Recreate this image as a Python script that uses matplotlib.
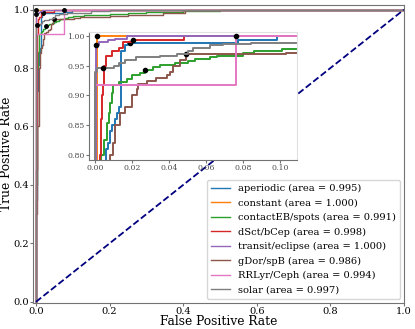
import matplotlib
matplotlib.use("Agg")
import matplotlib.pyplot as plt

plt.rcParams["font.family"] = "DejaVu Serif"

# ROC step points: x where the curve rises, y after the rise (drawn steps-post)
CLASS_NAMES = ["aperiodic", "constant", "contactEB/spots", "dSct/bCep",
               "transit/eclipse", "gDor/spB", "RRLyr/Ceph", "solar"]
AREAS = [0.995, 1.000, 0.991, 0.998, 1.000, 0.986, 0.994, 0.997]
COLORS = ["tab:blue", "tab:orange", "tab:green", "tab:red",
          "tab:purple", "tab:brown", "tab:pink", "tab:gray"]

fpr_aperiodic = [0.0, 0.0, 0.002, 0.004, 0.006, 0.007, 0.008, 0.009, 0.011, 0.012,
                 0.013, 0.0138, 0.016, 0.018, 0.077, 0.098, 1.0]
tpr_aperiodic = [0.0, 0.35, 0.55, 0.72, 0.81, 0.82, 0.84, 0.85, 0.86, 0.87,
                 0.88, 0.975, 0.985, 0.988, 0.993, 1.0, 1.0]

fpr_constant = [0.0, 0.0008, 1.0]
tpr_constant = [0.0, 1.0, 1.0]

fpr_contact = [0.0, 0.0, 0.002, 0.0032, 0.005, 0.0063, 0.0074, 0.008, 0.0092, 0.0095,
               0.013, 0.017, 0.020, 0.024, 0.027, 0.031, 0.035, 0.043, 0.050, 0.054,
               0.062, 0.066, 0.080, 0.086, 0.101, 0.13, 0.16, 0.2, 0.25, 0.3,
               0.4, 0.5, 0.6, 1.0]
tpr_contact = [0.0, 0.4, 0.65, 0.80, 0.825, 0.854, 0.87, 0.887, 0.904, 0.918,
               0.922, 0.928, 0.935, 0.938, 0.943, 0.947, 0.951, 0.955, 0.958, 0.961,
               0.965, 0.967, 0.972, 0.975, 0.978, 0.98, 0.983, 0.986, 0.99, 0.992,
               0.995, 0.997, 1.0, 1.0]

fpr_dsct = [0.0, 0.0, 0.0027, 0.003, 0.0036, 0.004, 0.005, 0.006, 0.009, 0.013,
            0.015, 0.0204, 0.048, 1.0]
tpr_dsct = [0.0, 0.45, 0.80, 0.86, 0.90, 0.917, 0.95, 0.967, 0.975, 0.98,
            0.99, 0.993, 1.0, 1.0]

fpr_transit = [0.0, 0.0003, 0.0023, 0.007, 0.011, 0.017, 1.0]
tpr_transit = [0.0, 0.985, 0.989, 0.993, 0.995, 1.0, 1.0]

fpr_gdor = [0.0, 0.0, 0.004, 0.008, 0.0097, 0.0108, 0.0135, 0.016, 0.0198, 0.0225,
            0.023, 0.028, 0.033, 0.039, 0.0405, 0.042, 0.046, 0.049, 0.103, 0.12,
            0.20, 0.25, 0.345, 0.405, 1.0]
tpr_gdor = [0.0, 0.3, 0.6, 0.80, 0.82, 0.85, 0.87, 0.88, 0.90, 0.91,
            0.92, 0.925, 0.93, 0.935, 0.94, 0.95, 0.96, 0.969, 0.972, 0.975,
            0.978, 0.98, 0.989, 1.0, 1.0]

fpr_rrlyr = [0.0, 0.0, 0.076, 1.0]
tpr_rrlyr = [0.0, 0.917, 1.0, 1.0]

fpr_solar = [0.0, 0.0, 0.001, 0.010, 0.013, 0.016, 0.022, 0.035, 0.044, 0.050,
             0.053, 0.062, 0.069, 0.084, 0.12, 0.15, 0.2, 0.3, 1.0]
tpr_solar = [0.0, 0.94, 0.946, 0.95, 0.955, 0.96, 0.965, 0.967, 0.97, 0.975,
             0.98, 0.985, 0.986, 0.988, 0.99, 0.995, 0.998, 1.0, 1.0]

# operating point (threshold 0.5) for each class
dot_x = [0.019, 0.001, 0.027, 0.0204, 0.0005, 0.049, 0.076, 0.004]
dot_y = [0.988, 1.0, 0.943, 0.993, 0.985, 0.969, 1.0, 0.946]

FPRS = [fpr_aperiodic, fpr_constant, fpr_contact, fpr_dsct,
        fpr_transit, fpr_gdor, fpr_rrlyr, fpr_solar]
TPRS = [tpr_aperiodic, tpr_constant, tpr_contact, tpr_dsct,
        tpr_transit, tpr_gdor, tpr_rrlyr, tpr_solar]

SPINE_COLOR = "0.45"


def draw_curves(ax, lw, ms, with_labels):
    for name, area, color, fpr, tpr, dx, dy in zip(
            CLASS_NAMES, AREAS, COLORS, FPRS, TPRS, dot_x, dot_y):
        label = f"{name} (area = {area:.3f})" if with_labels else None
        ax.plot(fpr, tpr, drawstyle="steps-post", color=color, lw=lw, label=label)
        ax.plot([dx], [dy], "o", color="black", ms=ms)


def style_spines(ax, light=None):
    for side, spine in ax.spines.items():
        spine.set_color(SPINE_COLOR)
        if light and side in light:
            spine.set_color("0.88")
    ax.tick_params(color=SPINE_COLOR)


fig = plt.figure(figsize=(4.15, 3.29), dpi=100)
ax = fig.add_axes([0.0795, 0.0799, 0.894, 0.906])

draw_curves(ax, lw=1.0, ms=2.5, with_labels=True)
ax.plot([0, 1], [0, 1], color="navy", lw=1.3, linestyle="--")

ax.set_xlim(-0.008, 1.0)
ax.set_ylim(-0.003, 1.017)
ax.set_xticks([0.0, 0.2, 0.4, 0.6, 0.8, 1.0])
ax.set_yticks([0.0, 0.2, 0.4, 0.6, 0.8, 1.0])
ax.tick_params(labelsize=7.1, length=2.0, pad=0.8)
ax.set_xlabel("False Positive Rate", fontsize=8.8)
ax.set_ylabel("True Positive Rate", fontsize=8.8)
ax.xaxis.set_label_coords(0.5, -0.042)
ax.yaxis.set_label_coords(-0.053, 0.5)
style_spines(ax)

ax.legend(loc="lower right", fontsize=7.1, handlelength=2.0,
          borderaxespad=0.4, labelspacing=0.55)

# zoomed inset of the upper-left corner
axins = fig.add_axes([0.2145, 0.5137, 0.501, 0.39])
draw_curves(axins, lw=1.4, ms=3, with_labels=False)
axins.set_xlim(-0.0033, 0.109)
axins.set_ylim(0.7916, 1.007)
axins.set_xticks([0.0, 0.02, 0.04, 0.06, 0.08, 0.10])
axins.set_yticks([0.80, 0.85, 0.90, 0.95, 1.00])
axins.set_xticklabels(["0.00", "0.02", "0.04", "0.06", "0.08", "0.10"])
axins.set_yticklabels(["0.80", "0.85", "0.90", "0.95", "1.00"])
axins.tick_params(labelsize=5.6, length=2, pad=1, labelcolor="0.3")
style_spines(axins, light=("top", "right"))

fig.savefig("out.png", dpi=100)
